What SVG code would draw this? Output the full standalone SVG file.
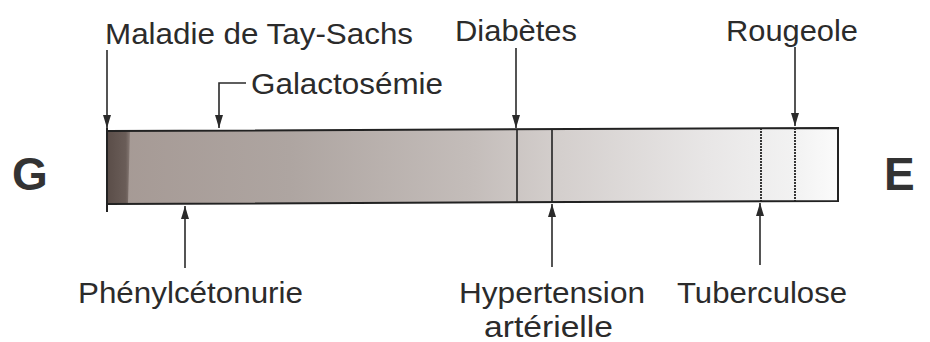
<svg xmlns="http://www.w3.org/2000/svg" width="930" height="342" viewBox="0 0 930 342">
<defs>
<linearGradient id="barGrad" x1="107" y1="0" x2="838" y2="0" gradientUnits="userSpaceOnUse">
<stop offset="0" stop-color="#a59994"/>
<stop offset="0.25" stop-color="#aea5a1"/>
<stop offset="0.5" stop-color="#c4bdba"/>
<stop offset="0.62" stop-color="#d4cfcd"/>
<stop offset="0.82" stop-color="#e8e6e6"/>
<stop offset="0.94" stop-color="#f2f2f2"/>
<stop offset="1" stop-color="#fbfbfb"/>
</linearGradient>
<linearGradient id="darkGrad" x1="107" y1="0" x2="134" y2="0" gradientUnits="userSpaceOnUse">
<stop offset="0" stop-color="#5a4d48"/>
<stop offset="0.7" stop-color="#6a5d58"/>
<stop offset="1" stop-color="#a59994"/>
</linearGradient>
<marker id="ah" viewBox="0 0 13 8" refX="13" refY="4" markerWidth="13" markerHeight="8" markerUnits="userSpaceOnUse" orient="auto">
<path d="M0,0 L13,4 L0,8 z" fill="#2a2a2a"/>
</marker>
<style>
.lbl{font-family:"Liberation Sans",Arial,sans-serif;font-size:30px;fill:#2b2b2b;}
.big{font-family:"Liberation Sans",Arial,sans-serif;font-size:46px;font-weight:bold;fill:#333;}
.arr{stroke:#2a2a2a;stroke-width:1.6;fill:none;marker-end:url(#ah);}
.bar{stroke:#222;stroke-width:2;}
.div{stroke:#222;stroke-width:1.6;}
.dot{stroke:#222;stroke-width:1.8;stroke-dasharray:2 1;}
</style>
</defs>

<g id="bar">
<polygon points="107,131 838,128 838,201 107,204" fill="url(#barGrad)"/>
<polygon points="108,131 130,131 128,204 108,204" fill="url(#darkGrad)"/>
<polygon points="107,131 838,128 838,201 107,204" fill="none" class="bar"/>
<line x1="107" y1="128" x2="107" y2="212" class="bar"/>
<line x1="517" y1="130" x2="517" y2="203" class="div"/>
<line x1="552" y1="129" x2="552" y2="202" class="div"/>
<line x1="761" y1="128" x2="761" y2="201" class="dot"/>
<line x1="795" y1="128" x2="795" y2="201" class="dot"/>
</g>

<g id="label-G"><text class="big" x="12" y="190">G</text></g>
<g id="label-E"><text class="big" x="884" y="190">E</text></g>

<g id="node-tay-sachs"><text class="lbl" x="105" y="44" textLength="308" lengthAdjust="spacingAndGlyphs">Maladie de Tay-Sachs</text></g>
<g id="node-galactosemie"><text class="lbl" x="251" y="94" textLength="192" lengthAdjust="spacingAndGlyphs">Galactosémie</text></g>
<g id="node-diabetes"><text class="lbl" x="455" y="41" textLength="122" lengthAdjust="spacingAndGlyphs">Diabètes</text></g>
<g id="node-rougeole"><text class="lbl" x="726" y="41" textLength="132" lengthAdjust="spacingAndGlyphs">Rougeole</text></g>
<g id="node-phenylcetonurie"><text class="lbl" x="78" y="303" textLength="225" lengthAdjust="spacingAndGlyphs">Phénylcétonurie</text></g>
<g id="node-hypertension"><text class="lbl" x="459" y="303" textLength="186" lengthAdjust="spacingAndGlyphs">Hypertension</text><text class="lbl" x="484" y="337" textLength="129" lengthAdjust="spacingAndGlyphs">artérielle</text></g>
<g id="node-tuberculose"><text class="lbl" x="677" y="303" textLength="170" lengthAdjust="spacingAndGlyphs">Tuberculose</text></g>

<g id="connectors">
<path class="arr" d="M107,50 V128"/>
<path class="arr" d="M246,83 H219 V128"/>
<path class="arr" d="M516,48 V128"/>
<path class="arr" d="M795,47 V126"/>
<path class="arr" d="M185,268 V206"/>
<path class="arr" d="M552,267 V204"/>
<path class="arr" d="M760,265 V203"/>
</g>
</svg>
